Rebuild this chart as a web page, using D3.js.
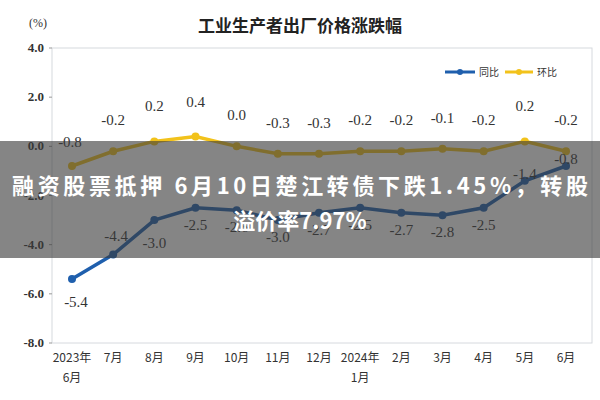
<!DOCTYPE html><html><head><meta charset="utf-8"><script src="https://cdn.jsdelivr.net/npm/d3@7"></script>
<style>body{margin:0;background:#fff}</style></head><body><svg id="c" width="600" height="400"></svg>
<script>
const months=["2023年|6月","7月","8月","9月","10月","11月","12月","2024年|1月","2月","3月","4月","5月","6月"];
const yoy=[-5.4,-4.4,-3.0,-2.5,-2.6,-3.0,-2.7,-2.5,-2.7,-2.8,-2.5,-1.4,-0.8];
const mom=[-0.8,-0.2,0.2,0.4,0.0,-0.3,-0.3,-0.2,-0.2,-0.1,-0.2,0.2,-0.2];
const yTicks=[4,2,0,-2,-4,-6,-8];
const svg=d3.select("#c");
const L=52,R=592,T=48,B=343;
const x=d3.scalePoint().domain(d3.range(months.length)).range([72,566]);
const y=d3.scaleLinear().domain([-8,4]).range([B,T]);
const serif="'Liberation Serif','DejaVu Serif',serif", cjk="'Noto Sans CJK SC',sans-serif";
svg.append("rect").attr("x",L).attr("y",T).attr("width",R-L).attr("height",B-T).attr("fill","none").attr("stroke","#d6d9de");
svg.append("text").attr("x",300).attr("y",32).attr("text-anchor","middle").attr("font-family",cjk).attr("font-size",17).attr("font-weight","bold").attr("fill","#222").text("工业生产者出厂价格涨跌幅");
svg.append("text").attr("x",38).attr("y",27).attr("text-anchor","middle").attr("font-family",serif).attr("font-size",12).attr("fill","#333").text("(%)");
yTicks.forEach(t=>{svg.append("text").attr("x",44).attr("y",y(t)+4).attr("text-anchor","end").attr("font-family",serif).attr("font-size",13).attr("font-weight","bold").attr("fill","#333").text(t.toFixed(1));
svg.append("line").attr("x1",L-3).attr("x2",L).attr("y1",y(t)).attr("y2",y(t)).attr("stroke","#999");});
months.forEach((m,i)=>{m.split("|").forEach((p,j)=>svg.append("text").attr("x",x(i)).attr("y",362+j*20).attr("text-anchor","middle").attr("font-family",cjk).attr("font-size",12).attr("fill","#333").text(p));});
const line=d3.line().x((d,i)=>x(i)).y(d=>y(d));
function series(data,col){svg.append("path").attr("d",line(data)).attr("fill","none").attr("stroke",col).attr("stroke-width",3.5);
svg.selectAll(null).data(data).enter().append("circle").attr("cx",(d,i)=>x(i)).attr("cy",d=>y(d)).attr("r",4).attr("fill",col);}
series(mom,"#f2c21b");series(yoy,"#1f5fad");
mom.forEach((v,i)=>svg.append("text").attr("x",x(i)+(i==0?-2:0)).attr("y",i==0?y(v)-19:y(v)-26+(v>0?-4:0)).attr("text-anchor","middle").attr("font-family",serif).attr("font-size",15).attr("fill","#333").text(v.toFixed(1)));
yoy.forEach((v,i)=>{let dy=i<3?28:(i>=11?-2:22); if(i==1)dy=-14; svg.append("text").attr("x",x(i)+(i==0?4:i==1?3:0)).attr("y",y(v)+dy).attr("text-anchor","middle").attr("font-family",serif).attr("font-size",15).attr("fill","#333").text(v.toFixed(1));});
svg.append("line").attr("x1",445).attr("x2",475).attr("y1",72).attr("y2",72).attr("stroke","#1f5fad").attr("stroke-width",3);
svg.append("circle").attr("cx",460).attr("cy",72).attr("r",3).attr("fill","#1f5fad");
svg.append("text").attr("x",479).attr("y",76).attr("font-family",cjk).attr("font-size",10).attr("fill","#333").text("同比");
svg.append("line").attr("x1",505).attr("x2",533).attr("y1",72).attr("y2",72).attr("stroke","#f2c21b").attr("stroke-width",3);
svg.append("circle").attr("cx",519).attr("cy",72).attr("r",3).attr("fill","#f2c21b");
svg.append("text").attr("x",537).attr("y",76).attr("font-family",cjk).attr("font-size",10).attr("fill","#333").text("环比");
svg.append("rect").attr("x",0).attr("y",141).attr("width",600).attr("height",117).attr("fill","#3a3a3a").attr("opacity",0.62);
["融资股票抵押 6月10日楚江转债下跌1.45%，转股","溢价率7.97%"].forEach((t,j)=>svg.append("text").attr("x",300).attr("y",194+j*35).attr("text-anchor","middle").attr("font-family",cjk).attr("font-size",22).attr("font-weight","bold").attr("fill","#fff").attr("textLength",j==0?576:null).text(t));
</script></body></html>
